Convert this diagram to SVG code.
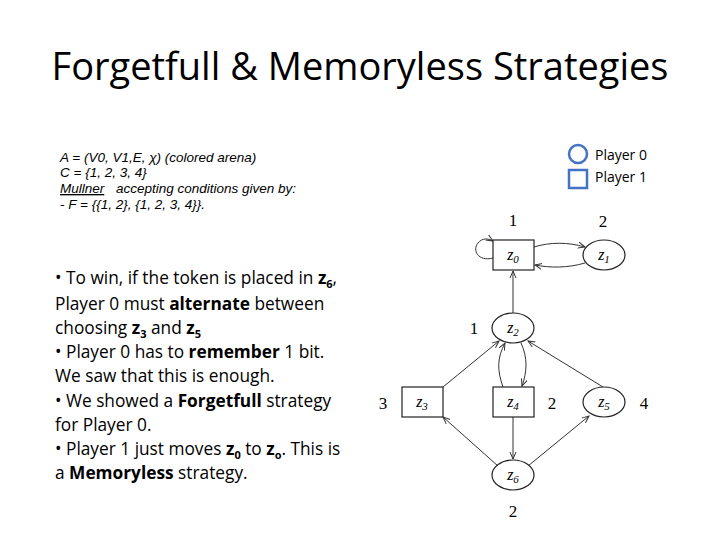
<svg xmlns="http://www.w3.org/2000/svg" width="720" height="540" viewBox="0 0 720 540">
<style>
.t{font-family:"Open Sans","Liberation Sans",sans-serif;fill:#000}
.s{font-family:"Liberation Sans",sans-serif;font-style:italic;font-size:13.5px}
.b{font-family:"Open Sans","Liberation Sans",sans-serif;font-size:17.3px}
.n{fill:#fff;stroke:#222;stroke-width:1.2}
.m{font-family:"Liberation Serif",serif;font-style:italic;font-size:16px;text-anchor:middle}
.c{font-family:"Liberation Serif",serif;font-size:17px;text-anchor:middle}
.e{fill:none;stroke:#333;stroke-width:1}
</style>
<defs><marker id="a" markerWidth="8" markerHeight="8" refX="7" refY="4" orient="auto"><path d="M0,1 L7,4 L0,7" fill="none" stroke="#333"/></marker></defs>
<rect width="720" height="540" fill="#fff"/>
<text class="t" x="360" y="80" font-size="38" text-anchor="middle">Forgetfull &amp; Memoryless Strategies</text>
<g id="legend">
<circle cx="578" cy="154" r="9" fill="none" stroke="#4472c4" stroke-width="2.5"/>
<rect x="569" y="170" width="18" height="18" fill="none" stroke="#4472c4" stroke-width="2.5"/>
<text class="t" x="595" y="160" font-size="14">Player 0</text>
<text class="t" x="595" y="182" font-size="14">Player 1</text>
</g>
<g id="defs-text">
<text class="s" x="60" y="162">A = (V0, V1,E, χ)  (colored arena)</text>
<text class="s" x="60" y="177">C = {1, 2, 3, 4}</text>
<text class="s" x="60" y="193" text-decoration="underline">Mullner</text><text class="s" x="116" y="193">accepting conditions given by:</text>
<text class="s" x="60" y="209">- F = {{1, 2}, {1, 2, 3, 4}}.</text>
</g>
<g id="bullets" class="b">
<text x="55" y="284">• To win, if the token is placed in <tspan font-weight="bold">z<tspan font-size="11" dy="4">6</tspan></tspan><tspan dy="-4">,</tspan></text>
<text x="55" y="310">Player 0 must <tspan font-weight="bold">alternate</tspan> between</text>
<text x="55" y="334">choosing <tspan font-weight="bold">z<tspan font-size="11" dy="4">3</tspan></tspan><tspan dy="-4"> and </tspan><tspan font-weight="bold">z<tspan font-size="11" dy="4">5</tspan></tspan></text>
<text x="55" y="358">• Player 0 has to <tspan font-weight="bold">remember</tspan> 1 bit.</text>
<text x="55" y="382">We saw that this is enough.</text>
<text x="55" y="407">• We showed a <tspan font-weight="bold">Forgetfull</tspan> strategy</text>
<text x="55" y="431">for Player 0.</text>
<text x="55" y="455">• Player 1 just moves <tspan font-weight="bold">z<tspan font-size="11" dy="4">0</tspan></tspan><tspan dy="-4"> to </tspan><tspan font-weight="bold">z<tspan font-size="11" dy="4">o</tspan></tspan><tspan dy="-4">. This is</tspan></text>
<text x="55" y="479">a <tspan font-weight="bold">Memoryless</tspan> strategy.</text>
</g>
<g id="edges">
<path class="e" d="M493,258 C478,262 472,250 478,243 C482,238 488,238 493,241" marker-end="url(#a)"/>
<path class="e" d="M534,247 C550,242 568,242 585,247" marker-end="url(#a)"/>
<path class="e" d="M585,263 C568,268 550,268 535,265" marker-end="url(#a)"/>
<path class="e" d="M513,313 L513,271" marker-end="url(#a)"/>
<path class="e" d="M443,387 L499,341" marker-end="url(#a)"/>
<path class="e" d="M603,387 L528,341" marker-end="url(#a)"/>
<path class="e" d="M503,387 C497,370 497,358 505,343" marker-end="url(#a)"/>
<path class="e" d="M521,343 C528,358 527,372 522,386" marker-end="url(#a)"/>
<path class="e" d="M513,417 L513,459" marker-end="url(#a)"/>
<path class="e" d="M498,466 L443,417" marker-end="url(#a)"/>
<path class="e" d="M528,466 L589,416" marker-end="url(#a)"/>
</g>
<g id="z0"><rect class="n" x="493" y="240" width="41" height="30"/><text class="m" x="513" y="260">z<tspan font-size="11" dy="3">0</tspan></text><text class="c" x="513" y="226">1</text></g>
<g id="z1"><ellipse class="n" cx="604" cy="255" rx="21" ry="15"/><text class="m" x="604" y="260">z<tspan font-size="11" dy="3">1</tspan></text><text class="c" x="603" y="227">2</text></g>
<g id="z2"><ellipse class="n" cx="513" cy="328" rx="21" ry="15"/><text class="m" x="513" y="333">z<tspan font-size="11" dy="3">2</tspan></text><text class="c" x="474" y="334">1</text></g>
<g id="z3"><rect class="n" x="402" y="387" width="41" height="30"/><text class="m" x="422" y="407">z<tspan font-size="11" dy="3">3</tspan></text><text class="c" x="383" y="409">3</text></g>
<g id="z4"><rect class="n" x="493" y="387" width="41" height="30"/><text class="m" x="513" y="407">z<tspan font-size="11" dy="3">4</tspan></text><text class="c" x="552" y="409">2</text></g>
<g id="z5"><ellipse class="n" cx="604" cy="402" rx="21" ry="15"/><text class="m" x="604" y="407">z<tspan font-size="11" dy="3">5</tspan></text><text class="c" x="644" y="409">4</text></g>
<g id="z6"><ellipse class="n" cx="513" cy="475" rx="21" ry="15"/><text class="m" x="513" y="480">z<tspan font-size="11" dy="3">6</tspan></text><text class="c" x="513" y="517">2</text></g>
</svg>
